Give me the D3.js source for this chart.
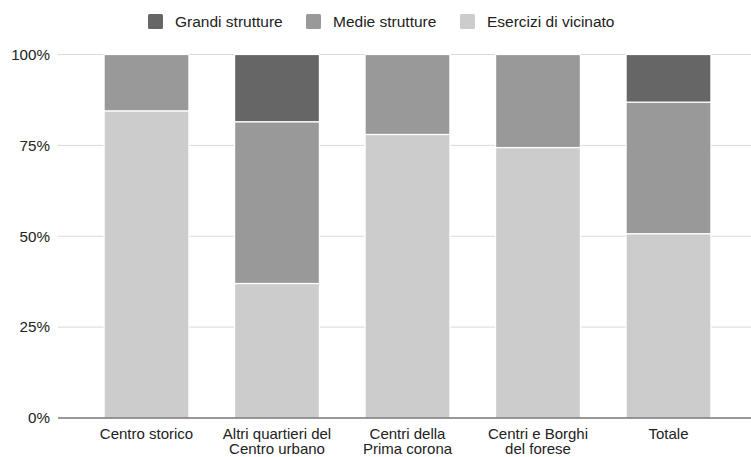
<!DOCTYPE html>
<html>
<head>
<meta charset="utf-8">
<script src="https://cdn.jsdelivr.net/npm/d3@7"></script>
<style>
  html, body { margin: 0; padding: 0; background: #fff; }
  svg { display: block; font-family: "Liberation Sans", Arial, Helvetica, sans-serif; }
</style>
</head>
<body>
<svg id="chart" width="751" height="457"></svg>
<script>
// Categories (two-line labels split on "\n")
const categories = [
  "Centro storico",
  "Altri quartieri del\nCentro urbano",
  "Centri della\nPrima corona",
  "Centri e Borghi\ndel forese",
  "Totale"
];

// Share of each store type per area (%)
const esercizi = [84.5, 37.0, 78.0, 74.4, 50.7];
const medie    = [15.5, 44.5, 22.0, 25.6, 36.2];
const grandi   = [0.0, 18.5, 0.0, 0.0, 13.1];

const seriesNames = ["Grandi strutture", "Medie strutture", "Esercizi di vicinato"];
const seriesColors = ["#666666", "#999999", "#cccccc"];
const yTicks = [0, 25, 50, 75, 100];

const svg = d3.select("#chart");
const gridLeft = 58, gridRight = 751;
const y0 = 418, y1 = 54.5;

const rows = categories.map((c, i) => ({
  cat: c,
  esercizi: esercizi[i],
  medie: medie[i],
  grandi: grandi[i]
}));
const keys = ["esercizi", "medie", "grandi"];
const colorOf = { esercizi: seriesColors[2], medie: seriesColors[1], grandi: seriesColors[0] };

const x = d3.scaleBand().domain(categories).range([81.25, 733.75]).paddingInner(0.35).paddingOuter(0.175);
const y = d3.scaleLinear().domain([0, 100]).range([y0, y1]);

// Gridlines
svg.append("g").selectAll("line").data(yTicks.filter(t => t > 0)).join("line")
  .attr("x1", gridLeft).attr("x2", gridRight)
  .attr("y1", d => y(d)).attr("y2", d => y(d))
  .attr("stroke", "#d9d9d9").attr("stroke-width", 1);

// Y tick labels
svg.append("g").selectAll("text").data(yTicks).join("text")
  .attr("x", 50).attr("y", d => y(d)).attr("dy", "0.35em")
  .attr("text-anchor", "end")
  .attr("font-size", 15.2).attr("fill", "#222")
  .text(d => d + "%");

// Stacked bars
const stack = d3.stack().keys(keys)(rows);
svg.append("g").selectAll("g").data(stack).join("g")
  .attr("fill", d => colorOf[d.key])
  .selectAll("rect").data(d => d.filter(p => p[1] - p[0] > 0)).join("rect")
  .attr("x", d => x(d.data.cat))
  .attr("width", x.bandwidth())
  .attr("y", d => y(d[1]))
  .attr("height", d => y(d[0]) - y(d[1]))
  .attr("stroke", "#ffffff").attr("stroke-width", 1.2);

// Baseline
svg.append("line")
  .attr("x1", gridLeft).attr("x2", gridRight)
  .attr("y1", y0).attr("y2", y0)
  .attr("stroke", "#333").attr("stroke-width", 1);

// X labels
const xl = svg.append("g").selectAll("text").data(categories).join("text")
  .attr("x", d => x(d) + x.bandwidth() / 2)
  .attr("y", 438.5)
  .attr("text-anchor", "middle")
  .attr("font-size", 15).attr("fill", "#222");
xl.selectAll("tspan").data(d => d.split("\n")).join("tspan")
  .attr("x", function() { return this.parentNode.getAttribute("x"); })
  .attr("dy", (d, i) => i === 0 ? 0 : 15.5)
  .text(d => d);

// Legend
const legendX = [148, 306, 460];
const lg = svg.append("g").selectAll("g").data(seriesNames).join("g")
  .attr("transform", (d, i) => `translate(${legendX[i]},0)`);
lg.append("rect").attr("x", 0).attr("y", 14).attr("width", 15).attr("height", 15).attr("rx", 1.5)
  .attr("fill", (d, i) => seriesColors[i]);
lg.append("text").attr("x", 27).attr("y", 21.5).attr("dy", "0.35em")
  .attr("font-size", 15.5).attr("fill", "#222")
  .text(d => d);
</script>
</body>
</html>
